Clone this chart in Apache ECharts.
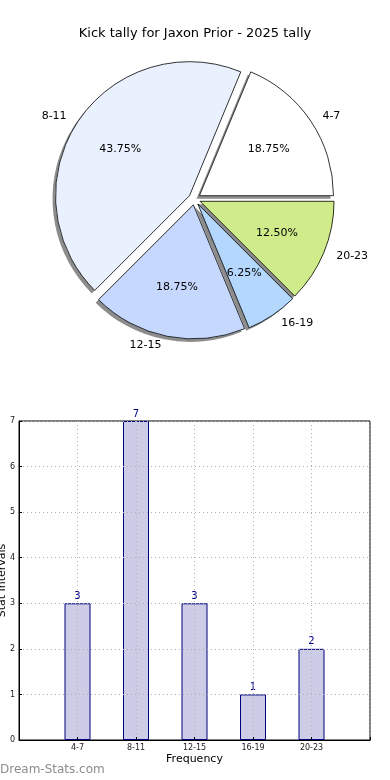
<!DOCTYPE html>
<html>
<head>
<meta charset="utf-8">
<script src="https://cdn.jsdelivr.net/npm/echarts@6/dist/echarts.min.js"></script>
<style>
html,body{margin:0;padding:0;background:#fff;}
#c{width:390px;height:780px;}
</style>
</head>
<body>
<div id="c"></div>
<script>
const categories = ['4-7', '8-11', '12-15', '16-19', '20-23'];
const counts = [3, 7, 3, 1, 2];
const sliceColors = ['#ffffff', '#eaf1fe', '#c6d8fd', '#b4d7fe', '#cfeb8a'];
const yTicks = [0, 1, 2, 3, 4, 5, 6, 7];
const titleText = 'Kick tally for Jaxon Prior - 2025 tally';

const FONT = 'DejaVu Sans';
const chart = echarts.init(document.getElementById('c'), null, {renderer: 'canvas'});

const pieCenter = [194.5, 199];
const pieR = 134;
const offset = 6;

const shadowStyle = {
  borderWidth: 0,
  shadowColor: 'rgba(0,0,0,0.45)', shadowBlur: 0, shadowOffsetX: -3, shadowOffsetY: 3
};
const lineStyle = {borderColor: '#000', borderWidth: 0.8, shadowBlur: 0, shadowColor: 'rgba(0,0,0,0)'};

const mk = (extra) => categories.map((c, i) => ({
  name: c, value: counts[i], selected: true,
  itemStyle: Object.assign({color: sliceColors[i]}, extra)
}));

const basePie = {
  type: 'pie', center: pieCenter, radius: [0, pieR],
  startAngle: 0, clockwise: false,
  selectedMode: 'multiple', selectedOffset: offset,
  avoidLabelOverlap: false, silent: true,
  emphasis: {disabled: true, scale: false}
};

chart.setOption({
  animation: false,
  textStyle: {fontFamily: FONT},
  title: {
    text: titleText, left: 'center', top: 22,
    textStyle: {fontFamily: FONT, fontSize: 13, fontWeight: 'normal', color: '#000'}
  },
  graphic: [{
    type: 'text', left: 0, top: 764,
    style: {text: 'Dream-Stats.com', fill: '#8c8c8c', font: '12px "DejaVu Sans"'}
  }],
  grid: {
    left: 19, right: 20, top: 421, bottom: 40,
    outerBoundsMode: 'none', containLabel: false,
    show: true, borderColor: '#000', borderWidth: 1, backgroundColor: 'transparent'
  },
  xAxis: {
    type: 'value', min: 0, max: 6, interval: 1, z: 3,
    name: 'Frequency', nameLocation: 'middle', nameGap: 14, nameMoveOverlap: false,
    nameTextStyle: {fontFamily: FONT, fontSize: 11, color: '#000'},
    axisLine: {show: true, onZero: false, lineStyle: {color: '#000', width: 1}},
    axisTick: {show: true, inside: true, length: 3, lineStyle: {color: '#000'}},
    axisLabel: {
      fontFamily: FONT, fontSize: 8, color: '#222', margin: 4,
      formatter: v => categories[v - 1] || ''
    },
    splitLine: {show: true, lineStyle: {type: [1, 3], color: '#b0b0b0', width: 1}}
  },
  yAxis: {
    type: 'value', min: yTicks[0], max: yTicks[yTicks.length - 1], interval: 1, z: 3,
    name: 'Stat Intervals', nameLocation: 'middle', nameGap: 11, nameMoveOverlap: false,
    nameTextStyle: {fontFamily: FONT, fontSize: 11, color: '#000'},
    axisLine: {show: true, lineStyle: {color: '#000', width: 1}},
    axisTick: {show: true, inside: true, length: 3, lineStyle: {color: '#000'}},
    axisLabel: {fontFamily: FONT, fontSize: 8, color: '#222', margin: 4},
    splitLine: {show: true, lineStyle: {type: [1, 3], color: '#b0b0b0', width: 1}}
  },
  series: [
    Object.assign({}, basePie, {
      z: 1,
      data: mk(shadowStyle),
      itemStyle: shadowStyle,
      select: {itemStyle: shadowStyle},
      label: {show: false}, labelLine: {show: false}
    }),
    Object.assign({}, basePie, {
      z: 2,
      data: mk(lineStyle),
      itemStyle: lineStyle,
      select: {itemStyle: lineStyle},
      label: {
        show: true, position: 'outside', alignTo: 'none',
        fontFamily: FONT, fontSize: 11, color: '#000',
        formatter: '{b}', distanceToLabelLine: 4
      },
      labelLine: {show: false, length: 9, length2: 0}
    }),
    Object.assign({}, basePie, {
      z: 3, radius: [0, pieR * 1.2],
      data: categories.map((c, i) => ({name: c, value: counts[i], selected: true,
        itemStyle: {color: 'rgba(0,0,0,0)', borderWidth: 0}})),
      select: {itemStyle: {color: 'rgba(0,0,0,0)', borderWidth: 0}},
      label: {
        show: true, position: 'inside',
        fontFamily: FONT, fontSize: 11, color: '#000',
        formatter: p => p.percent.toFixed(2) + '%'
      },
      labelLine: {show: false}
    }),
    {
      type: 'bar', z: 1, barWidth: 26,
      data: counts.map((v, i) => [i + 1, v]),
      itemStyle: {color: '#cccce6', borderColor: '#000080', borderWidth: 1},
      label: {
        show: true, position: 'top', distance: 2,
        fontFamily: FONT, fontSize: 10, color: '#00008b',
        formatter: p => p.value[1]
      },
      emphasis: {disabled: true}
    }
  ]
});
</script>
</body>
</html>
